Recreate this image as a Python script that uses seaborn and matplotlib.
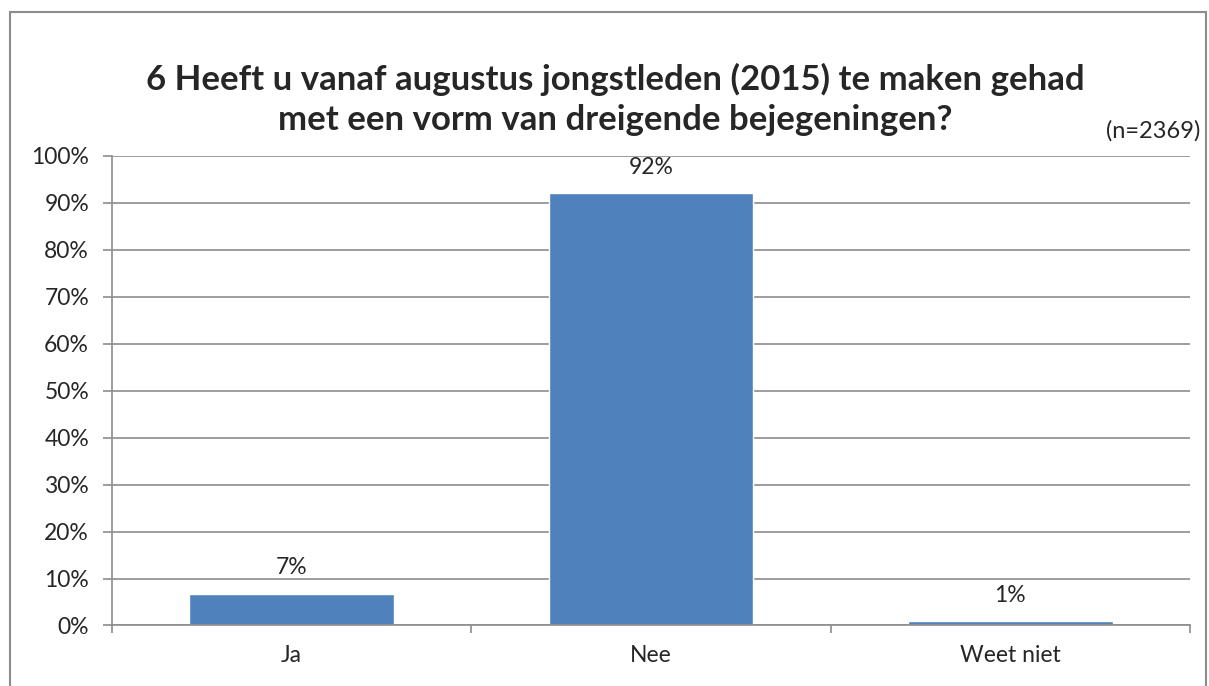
import matplotlib.pyplot as plt
import matplotlib.patches as mpatches
import seaborn as sns
import pandas as pd
from matplotlib.ticker import PercentFormatter, FixedLocator

categorien = ["Ja", "Nee", "Weet niet"]
percentages = [6.8, 92.1, 0.9]
labels = ["7%", "92%", "1%"]

sns.set_style("white")
plt.rcParams['font.family'] = ['Lato', 'DejaVu Sans']

df = pd.DataFrame({"cat": categorien, "pct": percentages})

fig = plt.figure(figsize=(12.09, 6.86), dpi=100)
ax = fig.add_axes([0.0926, 0.0882, 0.8917, 0.6848])

sns.barplot(data=df, x="cat", y="pct", color="#4F81BD", width=0.57, saturation=1, ax=ax)

ax.set_ylim(0, 100)
ax.set_xlim(-0.5, 2.5)
ax.set_yticks(range(0, 101, 10))
ax.yaxis.set_major_formatter(PercentFormatter(decimals=0))
ax.grid(axis="y", color="#8c8c8c", linewidth=1.2)
ax.set_axisbelow(True)
ax.set_xlabel("")
ax.set_ylabel("")

for s in ["top", "right"]:
    ax.spines[s].set_visible(False)
for s in ["left", "bottom"]:
    ax.spines[s].set_color("#8c8c8c")
    ax.spines[s].set_linewidth(1.2)

ax.tick_params(axis="y", length=6.5, color="#8c8c8c", width=1.2, labelsize=16.5, pad=10, left=True)
ax.tick_params(axis="x", which="major", length=0, labelsize=16.5, pad=14)
ax.xaxis.set_minor_locator(FixedLocator([-0.5, 0.5, 1.5, 2.5]))
ax.tick_params(axis="x", which="minor", length=6, color="#8c8c8c", width=1.2, bottom=True)

for i, (v, t) in enumerate(zip(percentages, labels)):
    ax.annotate(t, (i, v), xytext=(0, 11), textcoords="offset points",
                ha="center", va="bottom", fontsize=16.5)

fig.text(0.509, 0.855, "6 Heeft u vanaf augustus jongstleden (2015) te maken gehad\nmet een vorm van dreigende bejegeningen?",
         ha="center", va="center", fontsize=25, fontweight="bold", linespacing=1.32)
fig.text(0.993, 0.81, "(n=2369)", ha="right", va="center", fontsize=17)

fig.patches.append(mpatches.Rectangle((10 / 1209, -0.1), 1196 / 1209, 1.1 - 12 / 686,
                                      transform=fig.transFigure, fill=False,
                                      edgecolor="#8c8c8c", linewidth=1.5))

fig.savefig("out.png", dpi=100)
